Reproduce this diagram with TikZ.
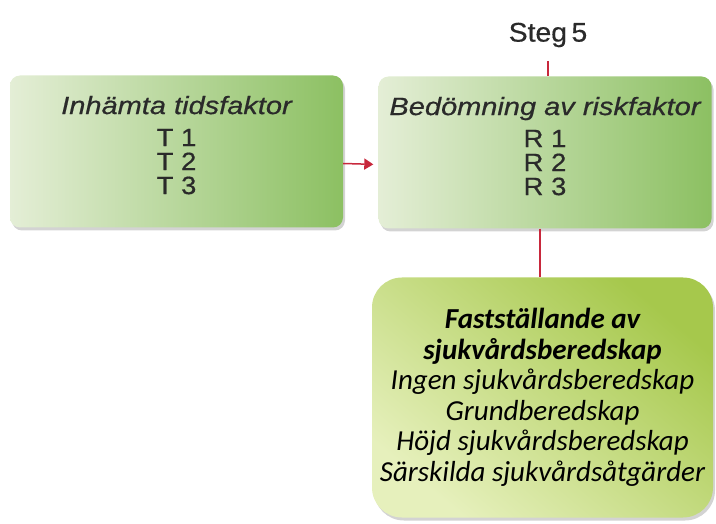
\documentclass[tikz,border=0pt]{standalone}
\usepackage{fontspec}
\setmainfont{Liberation Sans}
\newfontfamily\arialw[FakeStretch=1.1,FakeBold=0.6]{Liberation Sans}
\newfontfamily\arialt[FakeStretch=1.16,FakeBold=0.6]{Liberation Sans}
\newfontfamily\stegfont[FakeStretch=1.05,FakeBold=0.4]{Liberation Sans}
\newfontfamily\calfont{Carlito}
\usetikzlibrary{shadows,arrows.meta}
\definecolor{boxlight}{HTML}{E4EED6}
\definecolor{boxdark}{HTML}{8CC062}
\definecolor{greenlight}{HTML}{E6F0BC}
\definecolor{greendark}{HTML}{A6C84C}
\definecolor{redline}{HTML}{C8283C}
\definecolor{txtgray}{HTML}{2A2A2A}
\tikzset{
  x=1pt,y=-1pt,
  factorbox/.style={rounded corners=10pt, left color=boxlight, right color=boxdark,
    minimum width=333pt, minimum height=152pt, inner sep=0pt, align=center,
    text=txtgray, font=\arialw\fontsize{25}{24}\selectfont,
    drop shadow={shadow xshift=2pt, shadow yshift=-3pt, opacity=0.35}},
  resultbox/.style={rounded corners=30pt, bottom color=greenlight, top color=greendark,
    shading angle=-40,
    minimum width=341pt, minimum height=240pt, inner sep=0pt, align=center,
    text=black, font=\calfont\fontsize{29}{30.5}\selectfont,
    drop shadow={shadow xshift=2pt, shadow yshift=-3pt, opacity=0.35}},
  redconn/.style={draw=redline, line width=1.5pt},
}
\begin{document}
\begin{tikzpicture}
\useasboundingbox (0,0) rectangle (716,524);
\node[factorbox] (b1) at (176.5,151.5)
  {\arialt\itshape Inhämta tidsfaktor\\[8pt] T 1\\ T 2\\ T 3\\[-11pt]\mbox{}};
\node[factorbox] (b2) at (545,152.5)
  {\arialt\itshape Bedömning av riskfaktor\\[8pt] R 1\\ R 2\\ R 3\\[-11pt]\mbox{}};
\node[resultbox] (b3) at (542.5,397.5)
  {\bfseries\itshape Fastställande av\\ \bfseries\itshape sjukvårdsberedskap\\ \itshape Ingen sjukvårdsberedskap\\ \itshape Grundberedskap\\ \itshape Höjd sjukvårdsberedskap\\ \itshape Särskilda sjukvårdsåtgärder};
\node[font=\stegfont\fontsize{27}{28}\selectfont, text=txtgray] (steg) at (548,35) {Steg\,5};
\draw[redconn, shorten <=10pt] (steg.south) -- (steg.south |- b2.north);
\draw[redconn] ([xshift=-5pt]b2.south) -- ([xshift=-5pt]b2.south |- b3.north);
\draw[redconn, -{Triangle[length=9pt,width=11pt]}, shorten >=5pt]
  ([yshift=-12pt]b1.east) -- ([yshift=-12pt]b2.west);
\end{tikzpicture}
\end{document}
